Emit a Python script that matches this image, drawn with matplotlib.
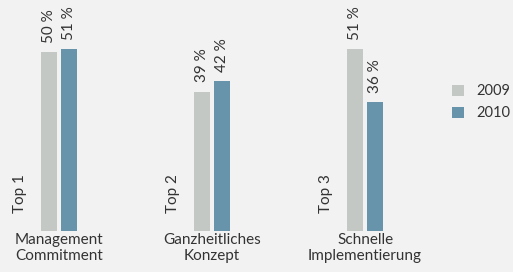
import numpy as np
import matplotlib.pyplot as plt

plt.rcParams['font.family'] = ['Lato', 'DejaVu Sans']

categories = ['Management\nCommitment', 'Ganzheitliches\nKonzept', 'Schnelle\nImplementierung']
ranks = ['Top 1', 'Top 2', 'Top 3']
years = ['2009', '2010']
values_2009 = [50, 39, 51]
values_2010 = [51, 42, 36]

bg = '#f2f2f2'
col_2009 = '#c4c8c4'
col_2010 = '#6794aa'
txt = '#333333'

fig = plt.figure(figsize=(5.13, 2.72), dpi=100, facecolor=bg)
ax = fig.add_axes([0, 0, 1, 1])
ax.set_facecolor(bg)

x = np.arange(len(categories))
w = 0.105
off = 0.065
b1 = ax.bar(x - off, values_2009, w, color=col_2009, label=years[0])
b2 = ax.bar(x + off, values_2010, w, color=col_2010, label=years[1])

# Prozentwerte über den Balken
for xi, v in zip(x - off, values_2009):
    ax.text(xi, v + 2.6, f'{v} %', rotation=90, ha='center', va='bottom',
            fontsize=11, color=txt)
for xi, v in zip(x + off, values_2010):
    ax.text(xi, v + 2.6, f'{v} %', rotation=90, ha='center', va='bottom',
            fontsize=11, color=txt)

# Rang und Kategorie
for xi, r, c in zip(x, ranks, categories):
    ax.text(xi - 0.255, 5, r, rotation=90, ha='center', va='bottom',
            fontsize=11, color=txt)
    ax.text(xi, -0.6, c, ha='center', va='top', fontsize=11, color=txt,
            linespacing=1.15)

ax.set_xlim(-0.386, 2.967)
ax.set_ylim(-11.5, 64.7)
ax.axis('off')

fig.legend(handles=[b1, b2], frameon=False, loc='upper left',
           bbox_to_anchor=(0.881, 0.69), borderpad=0, borderaxespad=0,
           handlelength=0.8, handleheight=0.8, handletextpad=0.85,
           labelspacing=0.55, fontsize=10.5, labelcolor=txt)

fig.savefig('out.png', dpi=100, facecolor=bg)
